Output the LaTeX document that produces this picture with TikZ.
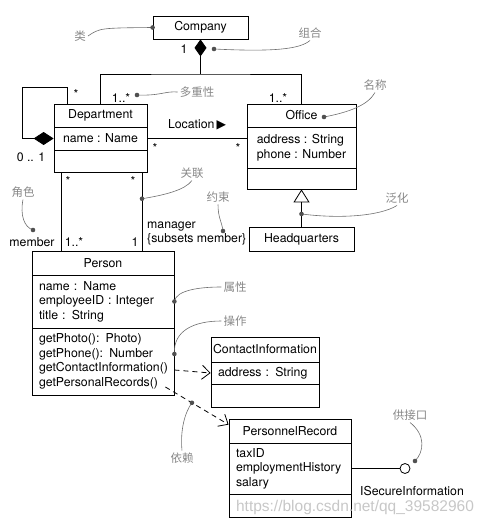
\documentclass[tikz,border=0pt]{standalone}
\usepackage{fontspec}
\setmainfont{TeX Gyre Heros}
\newfontfamily\cjkfont{Noto Sans CJK SC}
\newfontfamily\trifont{DejaVu Sans}
\newfontfamily\wmfont{Liberation Sans}
\usetikzlibrary{arrows.meta}
\definecolor{notegray}{RGB}{135,135,135}
\definecolor{linegray}{RGB}{110,110,110}
\definecolor{dotgray}{RGB}{80,80,80}

\begin{document}
\begin{tikzpicture}[x=1pt,y=-1pt,
  every node/.style={font=\fontsize{12.3}{14.6}\selectfont,inner sep=2pt},
  cls/.style={draw=black,line width=0.8pt,inner sep=1pt,align=left},
  lst/.style={draw=black,line width=0.8pt,inner xsep=7pt,inner ysep=2pt,align=left},
  tag/.style={text=notegray,font=\cjkfont\fontsize{11.5}{14}\selectfont},
  note/.style={draw=linegray,line width=0.6pt},
  dep/.style={dash pattern=on 5pt off 4pt,-{Straight Barb[length=8pt,width=14pt]}}]
\useasboundingbox (0,0) rectangle (487,524);
\node[cls,minimum width=95pt,minimum height=23pt] (0) at (200.5,27.5) {Company};
\node[cls,minimum width=93pt,minimum height=23pt] (1) at (100.5,115.5) {Department};
\node[cls,minimum width=93pt,minimum height=23pt] (2) at (100.5,138.5) {name : Name};
\node[cls,minimum width=93pt,minimum height=22pt] (3) at (100.5,161) {};
\node[cls,minimum width=109pt,minimum height=23pt] (4) at (301.5,115.5) {Office};
\node[cls,minimum width=109pt,minimum height=41pt] (5) at (301.5,147.5) {address : String\\phone : Number};
\node[cls,minimum width=109pt,minimum height=21pt] (6) at (301.5,178.5) {};
\node[cls,minimum width=105pt,minimum height=24pt] (7) at (301.5,239) {Headquarters};
\node[cls,minimum width=142pt,minimum height=24pt] (8) at (103,263) {Person};
\node[lst,text width=128pt,minimum height=53pt] (9) at (103,301.5) {name : Name\\employeeID : Integer\\title : String};
\node[lst,text width=128pt,minimum height=67pt] (10) at (103,361.5) {getPhoto(): Photo)\\getPhone(): Number\\getContactInformation()\\getPersonalRecords()};
\node[cls,minimum width=108pt,minimum height=25pt] (11) at (265,349.5) {ContactInformation};
\node[lst,text width=94pt,minimum height=22pt] (12) at (265,373) {address : String};
\node[cls,minimum width=108pt,minimum height=23pt] (13) at (265,395.5) {};
\node[cls,minimum width=122pt,minimum height=24pt] (14) at (290,431) {PersonnelRecord};
\node[lst,text width=108pt,minimum height=51pt] (15) at (290,468.5) {taxID\\employmentHistory\\salary};
\node[cls,minimum width=122pt,minimum height=23pt] (16) at (290,505.5) {};
\node[circle,draw=black,line width=0.8pt,minimum size=10pt,inner sep=0pt] (17) at (405,468.5) {};

\coordinate (18) at (200.5,74);
\coordinate (19) at (61,172);
\coordinate (20) at (142,172);

\path [draw=black,line width=0.8pt,{Diamond[length=17pt,width=12pt]}-] (0.south) -- (18);
\path [draw=black,line width=0.8pt] (1.north) |- (18) -| (4.north);
\path [draw=black,line width=0.8pt,-{Diamond[length=20pt,width=13pt]}] ([xshift=14pt]1.north west) -- ++(0,-16) -| ([xshift=-31pt]2.west) -- (2.west);
\path [draw=black,line width=0.8pt] (2.east) -- (2.east -| 5.west) node[midway,above=6pt] (60) {Location\,{\trifont ▶}};
\path [draw=black,line width=0.8pt] (19) -- (19 |- 8.north);
\path [draw=black,line width=0.8pt] (20) -- (20 |- 8.north) coordinate[pos=0.34] (51);
\path [draw=black,line width=0.8pt,-{Triangle[open,length=13pt,width=16pt]}] (7) -- (6) coordinate[pos=0.34] (54);
\path [draw=black,line width=0.8pt,dep] ([yshift=-8.5pt]10.east) -- (12.west);
\path [draw=black,line width=0.8pt,dep] ([xshift=-9pt,yshift=-25.5pt]10.east) -- ([yshift=-6pt]14.north west) coordinate[pos=0.42] (57);
\path [draw=black,line width=0.8pt] (15) -- (17);

\node (21) at (184,49) {1};
\node (22) at (121,98) {1..*};
\node (23) at (278,98) {1..*};
\node (24) at (76,94) {*};
\node (25) at (31,157) {0 .. 1};
\node (26) at (155,148) {*};
\node (27) at (238,148) {*};
\node (28) at (68,181) {*};
\node (29) at (133,181) {*};
\node (30) at (32,242) {member};
\node (31) at (74,242) {1..*};
\node (32) at (135,242) {1};
\node[align=left,anchor=west] (33) at (145,233.5) {manager\\\{subsets member\}};
\node[inner sep=0pt] (34) at (412,491) {ISecureInformation};

\node[tag] (35) at (80,36) {类};
\node[tag] (36) at (310,33) {组合};
\node[tag] (37) at (197,92) {多重性};
\node[tag] (38) at (375,85) {名称};
\node[tag] (39) at (192,173) {关联};
\node[tag] (40) at (23,192) {角色};
\node[tag] (41) at (218,197) {约束};
\node[tag] (42) at (397,198) {泛化};
\node[tag] (43) at (235,287) {属性};
\node[tag] (44) at (235,321) {操作};
\node[tag] (45) at (182,458) {依赖};
\node[tag] (46) at (410,415) {供接口};

\coordinate (47) at (0.west);
\coordinate (48) at (214,49);
\coordinate (49) at (137,95);
\coordinate (50) at (324,117);
\coordinate (52) at (33,230);
\coordinate (53) at (223,231);
\coordinate (55) at (9.east);
\coordinate (56) at ([yshift=7.5pt]10.east);
\coordinate (58) at (415,461);

\path [note] (35.east) .. controls (100,28) .. (47);
\path [note] (48) .. controls (275,52) and (300,49) .. (36.south);
\path [note] (49) .. controls (160,96) and (165,91) .. (37.west);
\path [note] (50) .. controls (350,112) and (368,105) .. (38.south);
\path [note] (51) .. controls (165,195) and (185,190) .. (39.south);
\path [note] (40.south) .. controls (20,215) and (24,227) .. (52);
\path [note] (41.south) .. controls (218,218) and (222,222) .. (53);
\path [note] (54) .. controls (340,219) and (380,216) .. (42.south);
\path [note] (55) .. controls (176,290) and (200,287) .. (43.west);
\path [note] (56) .. controls (173,330) and (195,321) .. (44.west);
\path [note] (45.north) .. controls (180,430) and (185,412) .. (57);
\path [note] (46.south) .. controls (426,435) and (424,452) .. (58);
\fill[dotgray] (47) circle (2.3pt) (48) circle (2.3pt) (49) circle (2.3pt) (50) circle (2.3pt)
  (51) circle (2.3pt) (52) circle (2.3pt) (53) circle (2.3pt) (54) circle (2.3pt)
  (55) circle (2.3pt) (56) circle (2.3pt) (57) circle (2.3pt) (58) circle (2.3pt);

\node[inner sep=0pt,text=black!22,font=\wmfont\fontsize{15.5}{16}\selectfont] (59) at (355,507) {https://blog.csdn.net/qq\_39582960};
\end{tikzpicture}
\end{document}
